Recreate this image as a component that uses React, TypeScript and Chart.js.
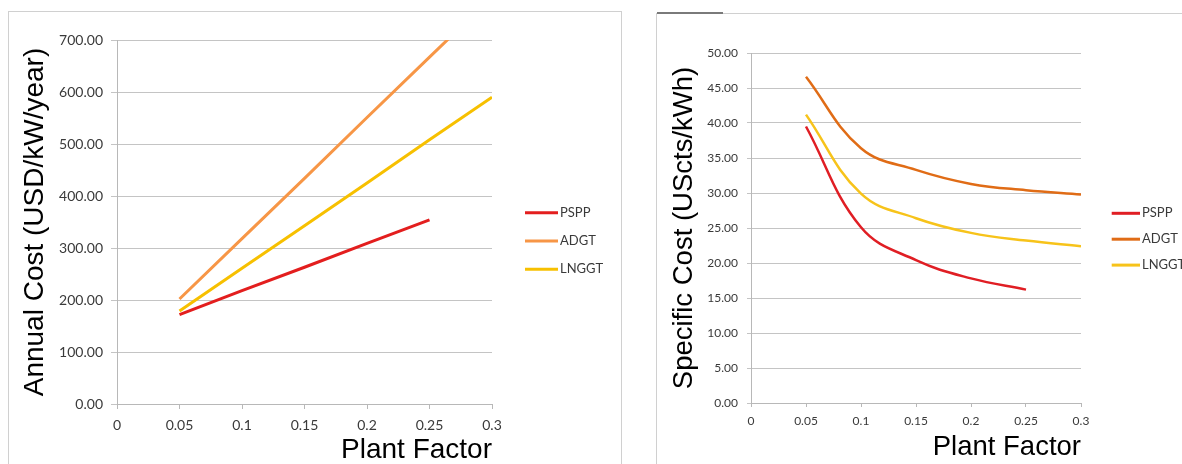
import React, { useEffect, useRef } from 'react';
import { Chart, registerables } from 'chart.js';

Chart.register(...registerables);

// ---------- data ----------
const seriesNames = ['PSPP', 'ADGT', 'LNGGT'];
const plantFactors = [0.05, 0.1, 0.15, 0.2, 0.25, 0.3];
const xTickLabels = ['0', '0.05', '0.1', '0.15', '0.2', '0.25', '0.3'];

const annualPSPP = [172, 218, 263, 309, 354];
const annualADGT = [202, 318, 434, 551, 667, 783];
const annualLNGGT = [179, 261, 343, 425, 508, 590];
const annualYTicks = ['0.00', '100.00', '200.00', '300.00', '400.00', '500.00', '600.00', '700.00'];

const specificPSPP = [39.5, 25.1, 20.4, 17.8, 16.2];
const specificADGT = [46.6, 36.4, 33.3, 31.3, 30.4, 29.8];
const specificLNGGT = [41.2, 29.9, 26.4, 24.3, 23.2, 22.4];
const specificYTicks = ['0.00', '5.00', '10.00', '15.00', '20.00', '25.00', '30.00', '35.00', '40.00', '45.00', '50.00'];

const leftColors = ['#e31e1e', '#f79646', '#f7c000'];
const rightColors = ['#e01e24', '#e06c16', '#f7c31a'];

const toPoints = (vals: number[]) => vals.map((v, i) => ({ x: plantFactors[i], y: v }));

// ---------- legend plugin ----------
const lineLegend = {
  id: 'lineLegend',
  afterDatasetsDraw(chart: any, _args: any, opts: any) {
    const ctx = chart.ctx;
    ctx.save();
    chart.data.datasets.forEach((ds: any, i: number) => {
      const y = opts.y + i * opts.dy;
      ctx.strokeStyle = ds.borderColor;
      ctx.lineWidth = opts.lineWidth;
      ctx.beginPath();
      ctx.moveTo(opts.x, y);
      ctx.lineTo(opts.x + opts.len, y);
      ctx.stroke();
      ctx.fillStyle = opts.color;
      ctx.font = opts.font;
      ctx.textBaseline = 'middle';
      ctx.textAlign = 'left';
      ctx.fillText(ds.label, opts.x + opts.len + 2, y);
    });
    ctx.restore();
  },
};

type Cfg = {
  series: number[][];
  colors: string[];
  tension: number;
  yMax: number;
  yStep: number;
  yTicks: string[];
  yTitle: string;
  padding: { left: number; top: number; right: number; bottom: number };
  yWidth: number;
  xHeight: number;
  tickFont: number;
  yTickLen: number;
  yTickPad: number;
  xTickLen: number;
  xTickPad: number;
  titleFont: number;
  yTitlePad: number;
  legend: any;
  lineWidth: number;
};

function buildConfig(c: Cfg): any {
  return {
    type: 'line',
    data: {
      datasets: c.series.map((vals, i) => ({
        label: seriesNames[i],
        data: toPoints(vals),
        borderColor: c.colors[i],
        backgroundColor: c.colors[i],
        borderWidth: c.lineWidth,
        pointRadius: 0,
        fill: false,
        tension: c.tension,
      })),
    },
    plugins: [lineLegend],
    options: {
      responsive: false,
      animation: false,
      devicePixelRatio: 1,
      layout: { padding: c.padding },
      plugins: {
        legend: { display: false },
        tooltip: { enabled: false },
        lineLegend: c.legend,
      },
      scales: {
        x: {
          type: 'linear',
          min: 0,
          max: 0.3,
          afterFit: (s: any) => { s.height = c.xHeight; },
          ticks: {
            stepSize: 0.05,
            color: '#3a3a3a',
            font: { family: 'Lato', size: c.tickFont },
            padding: c.xTickPad,
            maxRotation: 0,
            autoSkip: false,
            callback: (_v: any, i: number) => xTickLabels[i],
          },
          grid: { drawOnChartArea: false, drawTicks: true, tickLength: c.xTickLen, color: '#b8b8b8' },
          border: { display: true, color: '#b8b8b8' },
          title: {
            display: true,
            text: 'Plant Factor',
            align: 'end',
            color: '#000',
            font: { family: 'Liberation Sans', size: c.titleFont, lineHeight: 1 },
            padding: { top: 0, bottom: 0 },
          },
        },
        y: {
          min: 0,
          max: c.yMax,
          afterFit: (s: any) => { s.width = c.yWidth; },
          ticks: {
            stepSize: c.yStep,
            color: '#3a3a3a',
            font: { family: 'Lato', size: c.tickFont },
            padding: c.yTickPad,
            callback: (_v: any, i: number) => c.yTicks[i],
          },
          grid: { color: '#c4c4c4', tickLength: c.yTickLen, drawTicks: true },
          border: { display: true, color: '#b8b8b8' },
          title: {
            display: true,
            text: c.yTitle,
            color: '#000',
            font: { family: 'Liberation Sans', size: c.titleFont, lineHeight: 1 },
            padding: { top: c.yTitlePad, bottom: 0 },
          },
        },
      },
    },
  };
}

function ChartCanvas({ cfg, width, height, left }: { cfg: Cfg; width: number; height: number; left: number }) {
  const ref = useRef<HTMLCanvasElement>(null);
  useEffect(() => {
    if (!ref.current) return;
    const chart = new Chart(ref.current, buildConfig(cfg));
    return () => chart.destroy();
  }, []);
  return (
    <canvas
      ref={ref}
      width={width}
      height={height}
      style={{ position: 'absolute', left, top: 0, width, height }}
    />
  );
}

const leftCfg: Cfg = {
  series: [annualPSPP, annualADGT, annualLNGGT],
  colors: leftColors,
  tension: 0,
  yMax: 700,
  yStep: 100,
  yTicks: annualYTicks,
  yTitle: 'Annual Cost (USD/kW/year)',
  padding: { left: 8, top: 40, right: 148, bottom: 0 },
  yWidth: 109,
  xHeight: 60,
  tickFont: 14,
  yTickLen: 6,
  yTickPad: 8,
  xTickLen: 5,
  xTickPad: 8,
  titleFont: 28,
  yTitlePad: 13,
  lineWidth: 3,
  legend: { x: 525, y: 212.7, dy: 28.3, len: 33, lineWidth: 3, font: '13px Lato', color: '#3a3a3a' },
};

const rightCfg: Cfg = {
  series: [specificPSPP, specificADGT, specificLNGGT],
  colors: rightColors,
  tension: 0.4,
  yMax: 50,
  yStep: 5,
  yTicks: specificYTicks,
  yTitle: 'Specific Cost (UScts/kWh)',
  padding: { left: 18, top: 53, right: 101, bottom: 3 },
  yWidth: 93,
  xHeight: 58,
  tickFont: 12,
  yTickLen: 4,
  yTickPad: 9,
  xTickLen: 4,
  xTickPad: 7,
  titleFont: 27.5,
  yTitlePad: 13,
  lineWidth: 2.5,
  legend: { x: 471.7, y: 213.3, dy: 25.9, len: 28.3, lineWidth: 3, font: '13px Lato', color: '#3a3a3a' },
};

export default function App() {
  return (
    <div style={{ position: 'absolute', left: 0, top: 0, width: 1182, height: 464, overflow: 'hidden', background: '#fff' }}>
      <div style={{ position: 'absolute', left: 8, top: 11, width: 612, height: 470, borderLeft: '1px solid #d0d0d0', borderTop: '1px solid #d0d0d0', borderRight: '1px solid #d0d0d0' }} />
      <div style={{ position: 'absolute', left: 656, top: 13, width: 600, height: 470, borderLeft: '1px solid #d0d0d0', borderTop: '1px solid #d0d0d0' }} />
      <div style={{ position: 'absolute', left: 657, top: 12, width: 66, height: 2, background: '#7a7a7a' }} />
      <ChartCanvas cfg={leftCfg} width={640} height={464} left={0} />
      <ChartCanvas cfg={rightCfg} width={542} height={464} left={640} />
    </div>
  );
}
